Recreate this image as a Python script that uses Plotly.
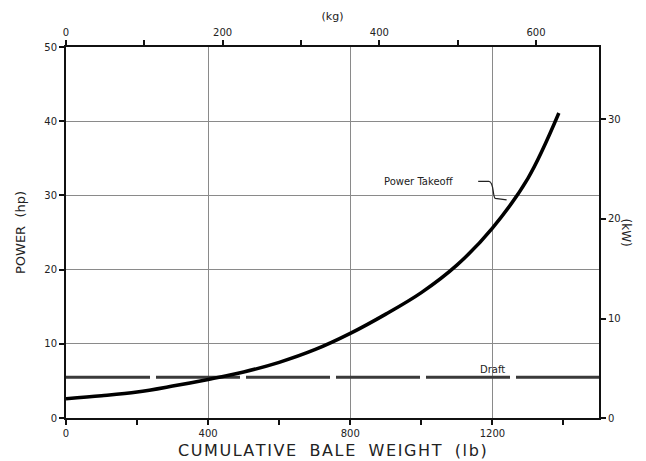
import plotly.graph_objects as go

# Data
weight_lb = [0, 100, 200, 300, 400, 500, 600, 700, 800, 900, 1000, 1100, 1200, 1300, 1387]
pto_hp = [2.6, 3.0, 3.5, 4.3, 5.2, 6.2, 7.5, 9.2, 11.4, 14.0, 16.9, 20.6, 25.6, 32.3, 41.1]
draft_x = [0, 1500]
draft_hp = [5.5, 5.5]

X_MAX = 1500
Y_MAX = 50
LB_PER_KG = 2.20462
KW_PER_HP = 0.7457

FONT = "DejaVu Sans"
INK = "#222222"

fig = go.Figure()

fig.add_trace(go.Scatter(x=draft_x, y=draft_hp, mode="lines",
                         line=dict(color="#3a3a3a", width=3, dash="84px,6px"),
                         hoverinfo="skip", showlegend=False))
fig.add_trace(go.Scatter(x=weight_lb, y=pto_hp, mode="lines",
                         line=dict(color="#000000", width=3.5, shape="spline", smoothing=1.0),
                         hoverinfo="skip", showlegend=False))
# dummy trace to activate secondary axes
fig.add_trace(go.Scatter(x=[0], y=[0], xaxis="x2", yaxis="y2", mode="markers",
                         marker=dict(opacity=0), hoverinfo="skip", showlegend=False))

axis_common = dict(showline=True, linecolor="#111111", linewidth=2, mirror=False,
                   ticks="outside", tickcolor="#111111", tickwidth=2, ticklen=5,
                   tickfont=dict(family=FONT, size=10, color=INK), zeroline=False,
                   automargin=False)

fig.update_layout(
    width=646, height=461,
    margin=dict(l=58, r=55, t=39, b=51),
    paper_bgcolor="white", plot_bgcolor="white",
    showlegend=False,
    xaxis=dict(range=[0, X_MAX], dtick=400, tick0=0,
               showgrid=True, gridcolor="#8a8a8a", gridwidth=1,
               minor=dict(dtick=200, ticks="outside", ticklen=5, tickcolor="#111111", tickwidth=2, showgrid=False),
               **axis_common),
    xaxis2=dict(range=[0, X_MAX / LB_PER_KG], overlaying="x", side="top", dtick=200, tick0=0,
                showgrid=False,
                minor=dict(dtick=100, ticks="outside", ticklen=5, tickcolor="#111111", tickwidth=2),
                title=dict(text="(kg)", font=dict(family=FONT, size=11, color=INK), standoff=4),
                **axis_common),
    yaxis=dict(range=[0, Y_MAX], dtick=10, tick0=0,
               showgrid=True, gridcolor="#8a8a8a", gridwidth=1,
               title=dict(text="POWER  (hp)", font=dict(family=FONT, size=13, color=INK), standoff=16),
               **axis_common),
    yaxis2=dict(range=[0, Y_MAX * KW_PER_HP], overlaying="y", side="right", dtick=10, tick0=0,
                showgrid=False, **axis_common),
)

# bottom axis title (letter-spaced with hair spaces)
title_text = "CUMULATIVE BALE WEIGHT (lb)"
spaced = "\u200a".join(title_text).replace(" ", "  ")
fig.add_annotation(text=spaced, xref="paper", yref="paper", x=0.5, y=0,
                   yshift=-32, yanchor="middle", showarrow=False,
                   font=dict(family=FONT, size=16, color=INK))

# right axis title, rotated clockwise
fig.add_annotation(text="(kW)", xref="paper", yref="paper", x=1.0, y=0.5,
                   xshift=36, textangle=90, showarrow=False,
                   font=dict(family=FONT, size=12, color=INK))

# labels
fig.add_annotation(text="Power Takeoff", x=994, y=31.9, xref="x", yref="y", showarrow=False,
                   font=dict(family=FONT, size=10, color=INK))
fig.add_annotation(text="Draft", x=1200, y=6.6, xref="x", yref="y", showarrow=False,
                   font=dict(family=FONT, size=10, color=INK))

# leader line from label to curve
fig.add_shape(type="path", xref="x", yref="y",
              path="M 1160,31.9 L 1190,31.9 C 1205,31.9 1200,29.8 1208,29.6 L 1240,29.4",
              line=dict(color="#222222", width=1.2))

fig.write_html("out.html")
